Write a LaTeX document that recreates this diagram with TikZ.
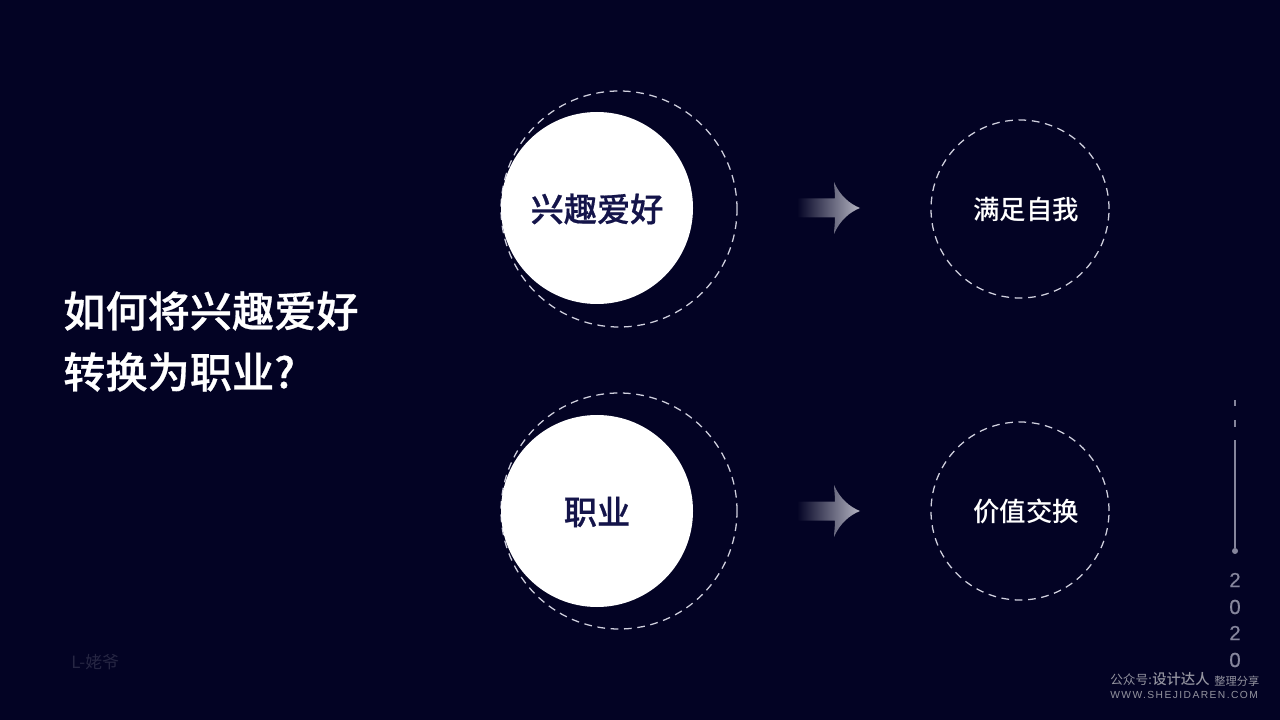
\documentclass[tikz,border=0pt]{standalone}
\usepackage{fontspec}
\usepackage{xcolor}
\usetikzlibrary{positioning}
\setmainfont{Liberation Sans}
\newfontfamily\cjk{Noto Sans CJK SC}
\newfontfamily\cjkmed{Noto Sans CJK SC Medium}
\newfontfamily\cjkheavy[FakeBold=0.6]{Noto Sans CJK SC Medium}
\newfontfamily\digits[FakeBold=0.5]{Liberation Sans}
\newfontfamily\spaced[LetterSpace=14]{Liberation Sans}
\definecolor{bgnavy}{HTML}{030324}
\definecolor{inknavy}{HTML}{14144A}
\definecolor{ringgray}{HTML}{D0D0DE}
\definecolor{yeargray}{HTML}{85859C}
\definecolor{markgray}{HTML}{93939F}
\definecolor{headgray}{HTML}{B4B4C2}
\tikzset{
  disc/.style={circle,fill=white,minimum size=192*0.025cm,inner sep=0pt},
  disctext/.style={inner sep=0pt,text=inknavy,font=\cjkheavy\fontsize{23.6}{28}\selectfont},
  bigring/.style={circle,draw=ringgray,line width=0.9pt,dash pattern=on 5.5pt off 4pt,minimum size=236*0.025cm,inner sep=0pt},
  smallring/.style={circle,draw=ringgray,line width=0.9pt,dash pattern=on 5.5pt off 4pt,minimum size=178*0.025cm,inner sep=0pt},
  ringtext/.style={inner sep=0pt,text=white,font=\cjkmed\fontsize{18.8}{23}\selectfont},
  titletext/.style={anchor=west,inner sep=0pt,text=white,font=\cjkheavy\fontsize{30}{36}\selectfont},
  yeardigit/.style={inner sep=0pt,text=yeargray,font=\digits\fontsize{14.5}{16}\selectfont},
  marktext/.style={anchor=west,inner sep=0pt,text=markgray},
  tickline/.style={draw=yeargray,line width=0.8pt}
}
\newcommand{\fadearrow}[2]{%
  \shade[left color=bgnavy,right color=headgray,shading angle=90]
    (#1-63,#2-9.5) -- (#1-25,#2-9.5) .. controls (#1-25,#2-16) and (#1-26,#2-22) .. (#1-26,#2-26)
    .. controls (#1-20,#2-12) and (#1-10,#2-4) .. (#1,#2)
    .. controls (#1-10,#2+4) and (#1-20,#2+12) .. (#1-26,#2+26)
    .. controls (#1-26,#2+22) and (#1-25,#2+16) .. (#1-25,#2+9.5) -- (#1-63,#2+9.5) -- cycle;
}
\begin{document}
\begin{tikzpicture}[x=0.025cm,y=-0.025cm]
  % background
  \fill[bgnavy] (0,0) rectangle (1280,720);
  \useasboundingbox (0,0) rectangle (1280,720);
  % title
  \node[titletext] (title1) at (63,311) {如何将兴趣爱好};
  \node[titletext] (title2) at (63,372) {转换为职业?};
  % left column
  \node[bigring] (ring1) at (619,209) {};
  \node[disc] (hobby) at (597,208) {};
  \node[disctext] (hobbytext) at (597,209) {兴趣爱好};
  \node[bigring] (ring2) at (619,511) {};
  \node[disc] (career) at (597,511) {};
  \node[disctext] (careertext) at (597,512) {职业};
  % arrows
  \fadearrow{860}{208}
  \fadearrow{860}{511}
  % right column
  \node[smallring] (self) at (1020,209) {};
  \node[ringtext] (selftext) at (1026,209) {满足自我};
  \node[smallring] (value) at (1020,511) {};
  \node[ringtext] (valuetext) at (1026,511) {价值交换};
  % year marker
  \coordinate (tick1a) at (1235,400);
  \coordinate (tick1b) at (1235,406);
  \coordinate (tick2a) at (1235,420);
  \coordinate (tick2b) at (1235,427);
  \coordinate (linetop) at (1235,440);
  \node[circle,fill=yeargray,minimum size=6*0.025cm,inner sep=0pt] (dot) at (1235,551) {};
  \draw[tickline] (tick1a) -- (tick1b);
  \draw[tickline] (tick2a) -- (tick2b);
  \draw[tickline] (linetop) -- (dot);
  \node[yeardigit] (y1) at (1235,580) {2};
  \node[yeardigit] (y2) at (1235,607) {0};
  \node[yeardigit] (y3) at (1235,633) {2};
  \node[yeardigit] (y4) at (1235,660) {0};
  % signature and watermark
  \node[marktext,text=white!14!bgnavy,font=\cjk\fontsize{12}{14}\selectfont] (sign) at (71,662) {L-姥爷};
  \node[marktext,font=\cjk\fontsize{9}{11}\selectfont] (mark1) at (1110,680) {公众号:};
  \node[marktext,font=\cjkmed\fontsize{10.2}{13}\selectfont] (mark2) at (1152,679) {设计达人};
  \node[marktext,font=\cjk\fontsize{8}{10}\selectfont] (mark3) at (1214,681) {整理分享};
  \node[marktext,font=\spaced\fontsize{7.3}{9}\selectfont] (mark4) at (1110,695) {WWW.SHEJIDAREN.COM};
\end{tikzpicture}
\end{document}
